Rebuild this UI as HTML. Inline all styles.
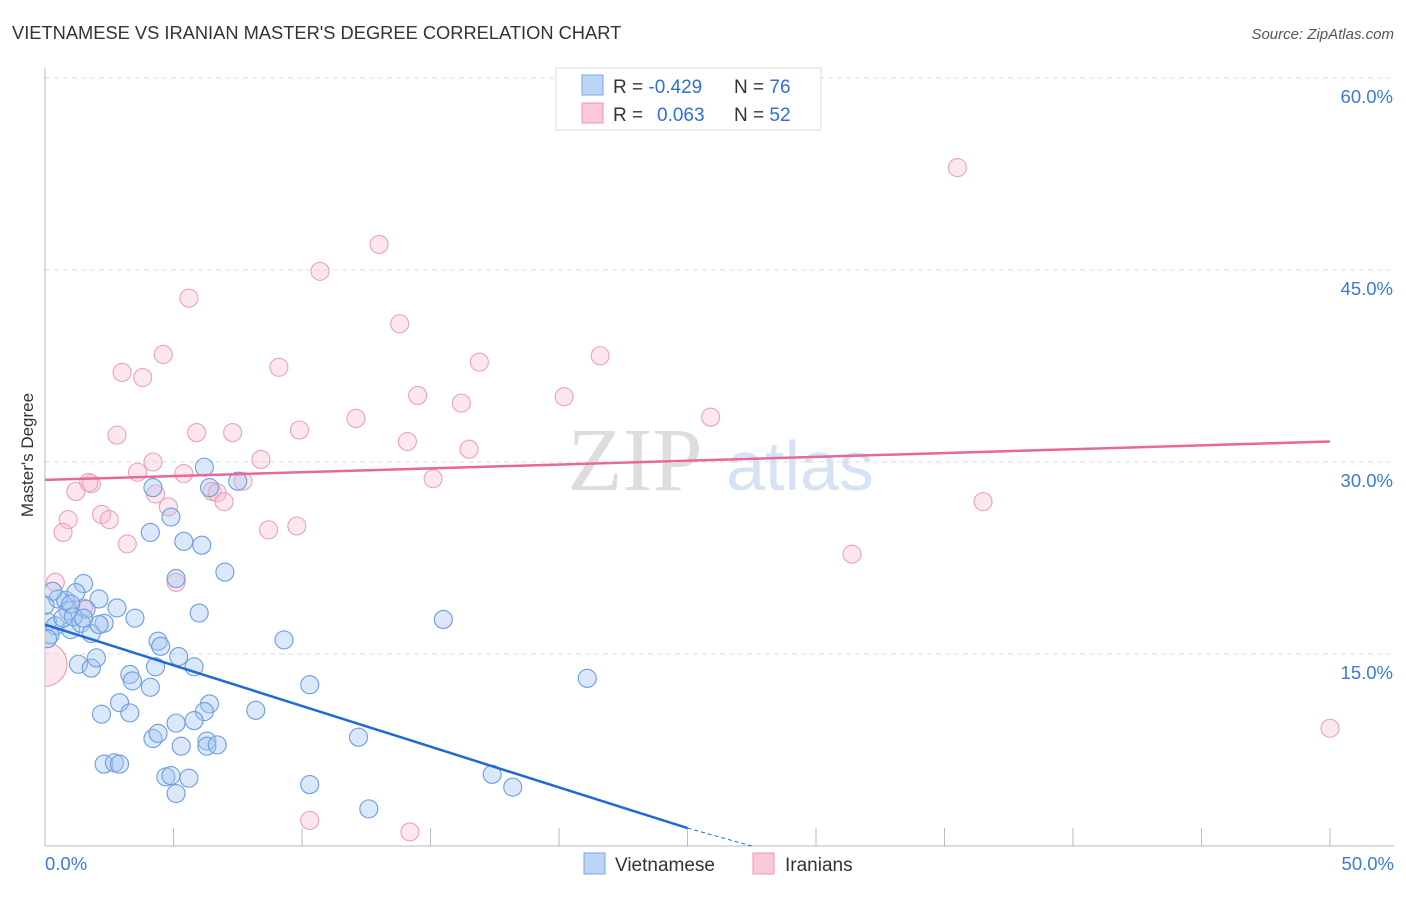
<!DOCTYPE html>
<html><head><meta charset="utf-8"><style>
body{margin:0;background:#fff;font-family:"Liberation Sans",sans-serif}
#wrap{position:relative;width:1406px;height:892px}
</style></head><body>
<div id="wrap">
<svg id="svg" width="1406" height="892" xmlns="http://www.w3.org/2000/svg">
<defs><clipPath id="plot"><rect x="45" y="60" width="1360" height="786"/></clipPath></defs>
<text x="12" y="39" font-size="18.3" fill="#333">VIETNAMESE VS IRANIAN MASTER'S DEGREE CORRELATION CHART</text>
<text x="1394" y="39" font-size="15" fill="#555" text-anchor="end" font-style="italic">Source: ZipAtlas.com</text>
<text x="33" y="455" font-size="17" fill="#333" text-anchor="middle" transform="rotate(-90 33 455)">Master's Degree</text>
<text x="635" y="490" font-size="90" fill="#ddd" font-family="Liberation Serif,serif" text-anchor="middle">ZIP</text>
<text x="800" y="490" font-size="70" fill="#d5e3f5" text-anchor="middle">atlas</text>
<g id="grid"></g><g id="marks" clip-path="url(#plot)"></g><g id="lines"></g>
<g>
<rect x="556" y="68" width="265" height="62" fill="#fff" stroke="#ddd"/>
<rect x="582" y="75" width="21" height="20" fill="#bcd4f5" stroke="#7aa6e6"/>
<rect x="582" y="103" width="21" height="20" fill="#fac8d6" stroke="#ec98b2"/>
<text x="613" y="93" font-size="19" fill="#333">R = <tspan fill="#2f6fd6">-0.429</tspan>  <tspan x="734">N = </tspan><tspan fill="#2f6fd6">76</tspan></text>
<text x="613" y="121" font-size="19" fill="#333">R = <tspan x="657" fill="#2f6fd6">0.063</tspan><tspan x="734">N = </tspan><tspan fill="#2f6fd6">52</tspan></text>
</g>
<g>
<rect x="584" y="853" width="21" height="21" fill="#bcd4f5" stroke="#7aa6e6"/>
<text x="615" y="871" font-size="19" fill="#333">Vietnamese</text>
<rect x="753" y="853" width="21" height="21" fill="#fac8d6" stroke="#ec98b2"/>
<text x="785" y="871" font-size="19" fill="#333">Iranians</text>
</g>
</svg></div>
<script>
const blueX=[6.2,6.4,7.5,4.2,4.1,4.9,5.4,6.1,7,5.1,1.5,0.5,0.8,1.2,2.1,2.8,0.9,1.6,3.5,6,15.5,0.1,0.4,1,1.4,1.8,2.3,0.7,0.2,0.1,4.4,4.5,5.2,5.8,9.3,1.3,1.8,2,3.3,3.4,4.1,4.3,10.3,2.2,2.9,3.3,6.4,6.2,8.2,21.1,4.2,4.4,5.1,5.8,5.3,6.3,6.3,6.7,12.2,2.3,2.7,2.9,4.7,4.9,5.6,5.1,10.3,17.4,18.2,12.6,0.3,0,1,1.1,2.1,1.5];
const blueY=[29.6,28,28.5,28,24.5,25.7,23.8,23.5,21.4,20.9,20.5,19.3,19.2,19.8,19.3,18.6,18.4,18.5,17.8,18.2,17.7,17.5,17.2,16.9,17.4,16.6,17.4,17.8,16.5,16.2,16,15.6,14.8,14,16.1,14.2,13.9,14.7,13.4,12.9,12.4,14,12.6,10.3,11.2,10.4,11.1,10.5,10.6,13.1,8.4,8.8,9.6,9.8,7.8,8.2,7.8,7.9,8.5,6.4,6.5,6.4,5.4,5.5,5.3,4.1,4.8,5.6,4.6,2.9,19.9,18.8,18.9,17.9,17.3,17.8];
const pinkX=[35.5,13,10.7,5.6,13.8,4.6,9.1,16.9,21.6,3,3.8,14.5,16.2,20.2,25.9,12.1,2.8,5.9,7.3,9.9,14.1,16.5,4.2,8.4,5.4,3.6,1.8,1.7,1.2,4.3,4.8,6.5,6.7,6.968,7.7,15.1,36.5,0.9,2.2,2.5,0.7,3.2,8.7,9.8,5.1,31.4,0.4,1.5,50,10.3,14.2,0];
const pinkY=[53,47,44.9,42.8,40.8,38.4,37.4,37.8,38.3,37,36.6,35.2,34.6,35.1,33.5,33.4,32.1,32.3,32.3,32.5,31.6,31,30,30.2,29.1,29.2,28.3,28.4,27.7,27.5,26.5,27.7,27.6,26.9,28.5,28.7,26.9,25.5,25.9,25.5,24.5,23.6,24.7,25,20.6,22.8,20.6,18.6,9.2,2,1.1,14.2];
const xTicks=[0,50],yTicks=[15,30,45,60];
const X=v=>45+v/50*1285, Y=v=>846-v/15*192;
const ns='http://www.w3.org/2000/svg';
function mk(t,a,p){const e=document.createElementNS(ns,t);for(const k in a)e.setAttribute(k,a[k]);p.appendChild(e);return e;}
const grid=document.getElementById('grid'),marks=document.getElementById('marks'),lines=document.getElementById('lines');
yTicks.forEach(t=>{const l=mk('line',{x1:45,x2:1394,y1:Y(t),y2:Y(t),stroke:'#ddd','stroke-dasharray':'5,4'},grid);


const tx=mk('text',{x:1393,y:Y(t)+25,'font-size':18.5,fill:'#3b7ad8','text-anchor':'end'},grid);tx.textContent=t.toFixed(1)+'%';

});
const ax=mk('line',{x1:45,x2:45,y1:68,y2:846,stroke:'#bbb'},grid);


const bx=mk('line',{x1:45,x2:1394,y1:846,y2:846,stroke:'#bbb'},grid);


for(let i=1;i<=10;i++){const tk=mk('line',{x1:X(i*5),x2:X(i*5),y1:828,y2:846,stroke:'#bbb'},grid);

}
xTicks.forEach((t,i)=>{const tx=mk('text',{x:i?1394:45,y:870,'font-size':18.5,fill:'#3b7ad8','text-anchor':i?'end':'start'},grid);tx.textContent=t.toFixed(1)+'%';

});
pinkX.forEach((x,i)=>{const c=mk('circle',{cx:X(x),cy:Y(pinkY[i]),r:i==pinkX.length-1?22:9,fill:'rgba(248,185,205,0.35)',stroke:'#eda0b8','stroke-width':1.1},marks);

});
blueX.forEach((x,i)=>{const c=mk('circle',{cx:X(x),cy:Y(blueY[i]),r:9,fill:'rgba(165,198,240,0.4)',stroke:'#6a9de2','stroke-width':1.1},marks);

});
const bl=mk('line',{x1:X(0),y1:Y(17.3),x2:X(25),y2:Y(1.4),stroke:'#1f6bd6','stroke-width':2.5},lines);


const bd=mk('line',{x1:X(25),y1:Y(1.4),x2:X(27.5),y2:Y(0),stroke:'#1f6bd6','stroke-width':1,'stroke-dasharray':'4,3'},lines);


const pl=mk('line',{x1:X(0),y1:Y(28.6),x2:X(50),y2:Y(31.6),stroke:'#e7699a','stroke-width':2.5},lines);


</script></body></html>
